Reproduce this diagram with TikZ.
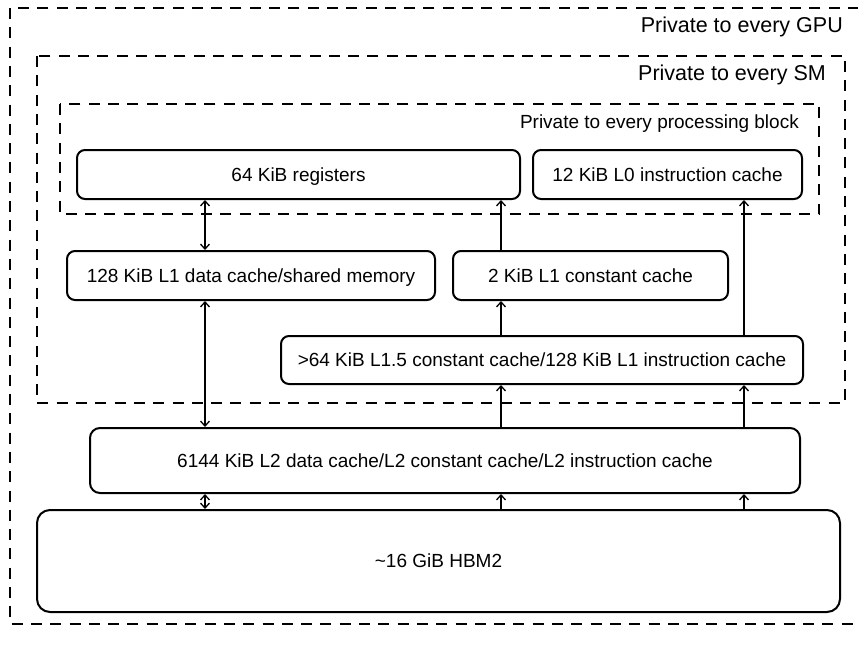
\documentclass[tikz,border=0pt]{standalone}
\usepackage{fontspec}
\setmainfont{Liberation Sans}
\usetikzlibrary{arrows.meta}
\tikzset{
  memb/.style={draw, line width=2pt, rounded corners=8pt, inner sep=0pt, text height=13.6pt, text depth=0pt, font=\fontsize{19}{22}\selectfont},
  region/.style={draw, line width=2.7pt, dash pattern=on 11pt off 8.3pt},
  lbl/.style={anchor=east, inner sep=0pt, font=\fontsize{19}{22}\selectfont},
  biglbl/.style={anchor=east, inner sep=0pt, font=\fontsize{21.5}{24}\selectfont},
  conn/.style={line width=1.3pt, >={Straight Barb[length=5pt,width=9pt]}}
}
\begin{document}
\begin{tikzpicture}[x=1pt,y=-1pt]
\useasboundingbox (0,0) rectangle (858,645);
\clip (0,0) rectangle (858,645);
% regions
\draw[region] (10,8) rectangle (880,624);
\draw[region] (37,56) rectangle (845,403);
\draw[region] (60,104) rectangle (819,214);
\node[biglbl] (lgpu) at (843,27) {Private to every GPU};
\node[biglbl] (lsm) at (826,75) {Private to every SM};
\node[lbl] (lpb) at (799,124) {Private to every processing block};
% memories
\node[memb, minimum width=443pt, minimum height=49pt] (reg) at (298.5,174.5) {64 KiB registers};
\node[memb, minimum width=269pt, minimum height=49pt] (l0) at (667.5,174.5) {12 KiB L0 instruction cache};
\node[memb, minimum width=368pt, minimum height=49pt] (l1d) at (251,275.5) {128 KiB L1 data cache/shared memory};
\node[memb, minimum width=275pt, minimum height=49pt] (l1c) at (590.5,275.5) {2 KiB L1 constant cache};
\node[memb, minimum width=522pt, minimum height=48pt] (l15) at (542,360) {>64 KiB L1.5 constant cache/128 KiB L1 instruction cache};
\node[memb, minimum width=710pt, minimum height=65pt, rounded corners=10pt] (l2) at (445,460.5) {6144 KiB L2 data cache/L2 constant cache/L2 instruction cache};
\node[memb, minimum width=803pt, minimum height=102pt, rounded corners=13pt] (hbm) at (438.5,561) {\textasciitilde16 GiB HBM2};
% connector columns
\coordinate (ca) at (205,0);
\coordinate (cb) at (501,0);
\coordinate (cc) at (744,0);
% connectors
\draw[conn,<->] (ca |- reg.south) -- (ca |- l1d.north);
\draw[conn,<->] (ca |- l1d.south) -- (ca |- l2.north);
\draw[conn,->] (cb |- l1c.north) -- (cb |- reg.south);
\draw[conn,->] (cb |- l15.north) -- (cb |- l1c.south);
\draw[conn,->] (cc |- l15.north) -- (cc |- l0.south);
\draw[conn,->] (cb |- l2.north) -- (cb |- l15.south);
\draw[conn,->] (cc |- l2.north) -- (cc |- l15.south);
\draw[conn,<->] (ca |- hbm.north) -- (ca |- l2.south);
\draw[conn,->] (cb |- hbm.north) -- (cb |- l2.south);
\draw[conn,->] (cc |- hbm.north) -- (cc |- l2.south);
\end{tikzpicture}
\end{document}
